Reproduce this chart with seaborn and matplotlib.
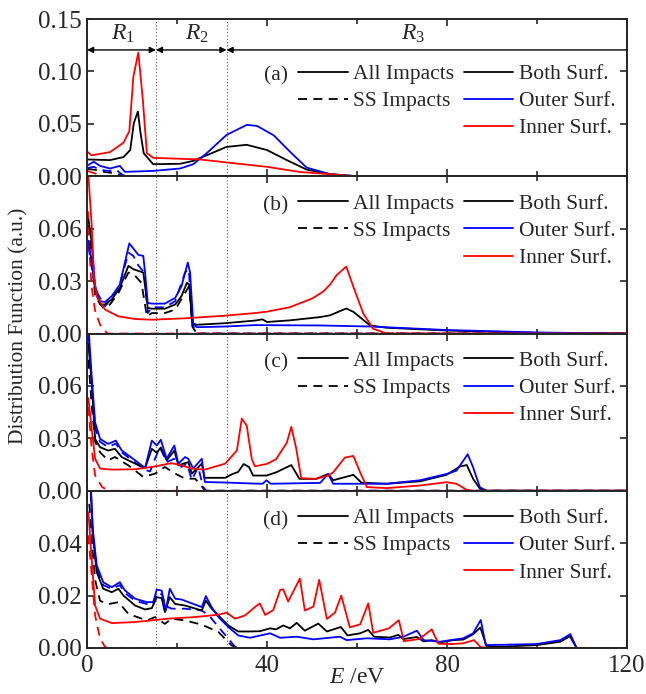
import matplotlib
matplotlib.use("Agg")
import matplotlib.pyplot as plt
import seaborn as sns
from matplotlib.lines import Line2D
from matplotlib.ticker import MultipleLocator

# ---------------- data (E in eV, distribution function in a.u.) ----------------
# panel (a)
A_BOTH_E = [0.2, 5.1, 8.1, 9.6, 10.4, 11.3, 11.9, 12.6, 14.7, 20.7, 23.6, 26.6, 31, 35.5, 40, 44.4, 48.8, 54, 60, 120]
A_BOTH_V = [0.016, 0.0154, 0.0183, 0.025, 0.0506, 0.0618, 0.041, 0.022, 0.0115, 0.0119, 0.0147, 0.020, 0.028,
            0.030, 0.025, 0.0154, 0.0064, 0.002, 0.0, 0.0]
A_OUTER_E = [0.2, 1.5, 2.9, 5.1, 7.3, 8.4, 14.7, 20.7, 23.6, 26.6, 31, 35.5, 37.8, 41.5, 45.2, 48.8, 54, 60, 120]
A_OUTER_V = [0.0106, 0.0138, 0.0099, 0.0074, 0.0099, 0.0042, 0.0051, 0.0074, 0.0115, 0.022, 0.0394, 0.049, 0.048,
             0.039, 0.023, 0.0083, 0.002, 0.0, 0.0]
A_INNER_E = [0.2, 1.0, 5.1, 8.1, 9.4, 10.3, 11.4, 12.4, 13.3, 14.7, 25.1, 31, 40, 47.3, 54, 60, 120]
A_INNER_V = [0.023, 0.020, 0.023, 0.032, 0.043, 0.095, 0.118, 0.073, 0.022, 0.0176, 0.016, 0.0132, 0.009, 0.0041,
             0.002, 0.0, 0.0]
A_BOTH_SS_E = [0.2, 2, 4, 6, 8, 9, 120]
A_BOTH_SS_V = [0.007, 0.006, 0.004, 0.003, 0.0005, 0.0, 0.0]
A_OUTER_SS_E = [0.2, 1.5, 3, 5, 6.5, 8, 9, 120]
A_OUTER_SS_V = [0.008, 0.009, 0.006, 0.005, 0.006, 0.001, 0.0, 0.0]
A_INNER_SS_E = [0.2, 1.5, 3, 4, 120]
A_INNER_SS_V = [0.005, 0.003, 0.001, 0.0, 0.0]

# panel (b)
B_BOTH_E = [0.3, 1.04, 1.8, 2.9, 4.0, 5.5, 7.3, 9.2, 10.3, 12.5, 12.9, 13.5, 14.4, 17.3, 19.6, 21.0, 22.2, 22.7,
            23.4, 24.4, 30.7, 37.3, 39.0, 40.0, 45, 51.8, 54, 57.6, 59.2, 62.9, 66.6, 79.9, 100, 118, 120]
B_BOTH_V = [0.0656, 0.0522, 0.0252, 0.0166, 0.0166, 0.0195, 0.0262, 0.0387, 0.0368, 0.0349, 0.027, 0.0146, 0.0142,
            0.0142, 0.0166, 0.0214, 0.029, 0.028, 0.0059, 0.005, 0.0059, 0.0074, 0.0081, 0.0066, 0.0075, 0.0094,
            0.0104, 0.0143, 0.0124, 0.0046, 0.0033, 0.0017, 0.0004, 0.0, 0.0]
B_OUTER_E = [0.3, 1.04, 1.8, 2.9, 4.0, 5.5, 7.3, 9.4, 11.4, 12.5, 12.9, 13.5, 14.4, 17.3, 19.6, 21.0, 22.4, 22.9,
             23.6, 24.4, 30.7, 37.3, 51.8, 62.9, 79.9, 100, 118, 120]
B_OUTER_V = [0.0531, 0.0406, 0.0271, 0.0185, 0.018, 0.0214, 0.0281, 0.0516, 0.045, 0.0444, 0.0349, 0.0175, 0.0171,
             0.0171, 0.0204, 0.0271, 0.0406, 0.0349, 0.0059, 0.0036, 0.004, 0.0048, 0.0046, 0.004, 0.002, 0.0006,
             0.0, 0.0]
B_INNER_E = [0.2, 0.67, 1.04, 1.56, 2.15, 4.0, 7.0, 10.7, 14.4, 21.8, 30.7, 37.3, 40, 45, 50, 52.5, 54, 55.5, 57.6,
             59.2, 61.4, 63.6, 66.6, 120]
B_INNER_V = [0.095, 0.0762, 0.0617, 0.0329, 0.0213, 0.0137, 0.0098, 0.0083, 0.0079, 0.0087, 0.0102, 0.0117, 0.0125,
             0.015, 0.02, 0.024, 0.028, 0.0335, 0.0383, 0.0267, 0.0114, 0.0027, 0.0, 0.0]
B_BOTH_SS_E = [0.3, 1.04, 1.8, 3.6, 5.1, 7.0, 9.2, 10.7, 12.1, 13.3, 14.4, 17.3, 19.6, 21.8, 22.7, 23.4, 24.4, 120]
B_BOTH_SS_V = [0.062, 0.045, 0.021, 0.0146, 0.0166, 0.0233, 0.0349, 0.033, 0.029, 0.0098, 0.0117, 0.0117, 0.0137,
               0.0233, 0.0272, 0.004, 0.0, 0.0]
B_OUTER_SS_E = [0.3, 1.04, 1.8, 4.0, 7.0, 9.2, 10.3, 11.4, 12.7, 13.5, 14.4, 17.3, 19.6, 21.8, 22.6, 23.4, 24.4, 120]
B_OUTER_SS_V = [0.05, 0.038, 0.0252, 0.0156, 0.0252, 0.0463, 0.0444, 0.039, 0.0349, 0.0117, 0.015, 0.015, 0.0185,
                0.035, 0.0368, 0.006, 0.0, 0.0]
B_INNER_SS_E = [0.2, 0.6, 1.0, 1.8, 2.9, 4.5, 120]
B_INNER_SS_V = [0.07, 0.045, 0.027, 0.013, 0.005, 0.0, 0.0]

# panel (c)
C_BOTH_E = [0.3, 1.04, 1.8, 2.9, 4.7, 6.2, 7.7, 10.7, 12.9, 14.4, 15.5, 16.4, 17.7, 19.4, 20.3, 21.4, 22.5, 23.3,
            25.5, 26.1, 30.7, 32.1, 33.6, 34.8, 36.0, 36.9, 39.9, 42.0, 45.4, 47.2, 50.9, 53.6, 54.7, 59.2, 61.0,
            66.6, 74.0, 79.9, 82.9, 84.4, 85.8, 87.3, 88.8, 120]
C_BOTH_V = [0.0843, 0.0617, 0.0297, 0.0249, 0.023, 0.024, 0.0193, 0.0155, 0.013, 0.024, 0.0217, 0.0248, 0.0174,
            0.023, 0.0145, 0.0155, 0.0164, 0.0098, 0.0155, 0.0074, 0.0074, 0.0093, 0.0108, 0.0153, 0.0136, 0.0087,
            0.0087, 0.0105, 0.0147, 0.0068, 0.0068, 0.0096, 0.006, 0.0091, 0.0046, 0.004, 0.0054, 0.0091, 0.0139,
            0.0147, 0.0068, 0.0012, 0.0, 0.0]
C_OUTER_E = [0.3, 1.04, 1.8, 2.9, 4.7, 6.4, 7.7, 10.7, 12.9, 14.4, 15.5, 16.4, 17.7, 19.4, 20.3, 21.8, 22.5, 23.6,
             25.5, 26.2, 30.7, 37.3, 39.0, 39.9, 40.8, 51.8, 53.6, 54.7, 66.6, 74.0, 79.9, 82.1, 84.6, 85.8, 87.3,
             88.8, 120]
C_OUTER_V = [0.095, 0.0655, 0.0391, 0.0297, 0.0268, 0.0287, 0.0231, 0.0174, 0.013, 0.0287, 0.0259, 0.0292, 0.0183,
             0.0259, 0.0155, 0.0193, 0.0183, 0.0127, 0.0183, 0.005, 0.0047, 0.0041, 0.004, 0.006, 0.004, 0.0045,
             0.0096, 0.004, 0.004, 0.006, 0.0096, 0.0115, 0.0209, 0.0134, 0.002, 0.0, 0.0]
C_INNER_E = [0.3, 1.04, 1.8, 2.9, 5.5, 10.7, 14.4, 18.8, 21.0, 23.3, 26.2, 30.7, 33.3, 34.4, 35.5, 36.6, 37.3, 39.9,
             42.0, 44.4, 45.4, 46.5, 47.6, 50.9, 53.6, 54.7, 57.3, 59.2, 60.7, 62.2, 66.6, 74.0, 79.9, 82.1, 84.4,
             85.8, 120]
C_INNER_V = [0.053, 0.0353, 0.0183, 0.0127, 0.0121, 0.0123, 0.0136, 0.0158, 0.0145, 0.0127, 0.0121, 0.0155, 0.023,
             0.0413, 0.0372, 0.0183, 0.014, 0.0153, 0.018, 0.0275, 0.0366, 0.024, 0.0072, 0.0068, 0.0087, 0.0105,
             0.019, 0.0199, 0.0105, 0.0021, 0.0015, 0.003, 0.0049, 0.004, 0.0005, 0.0, 0.0]
C_BOTH_SS_E = [0.3, 1.0, 1.8, 2.9, 4.7, 6.2, 9.2, 12.5, 15.1, 17.3, 19.6, 21.8, 24.0, 25.1, 26.2, 120]
C_BOTH_SS_V = [0.075, 0.05, 0.028, 0.022, 0.0174, 0.0193, 0.0145, 0.0079, 0.0098, 0.0136, 0.0098, 0.0069, 0.0069,
               0.004, 0.0, 0.0]
C_OUTER_SS_E = [0.3, 1.04, 1.8, 2.9, 4.7, 6.4, 7.7, 10.7, 12.9, 14.0, 15.1, 16.2, 17.7, 19.4, 21.0, 22.2, 23.3, 24.7,
                25.8, 26.5, 120]
C_OUTER_SS_V = [0.09, 0.062, 0.036, 0.028, 0.025, 0.027, 0.022, 0.016, 0.012, 0.011, 0.0183, 0.0248, 0.0164, 0.0183,
                0.0136, 0.0155, 0.0062, 0.0136, 0.0022, 0.0, 0.0]
C_INNER_SS_E = [0.3, 1.04, 1.8, 3.3, 4.7, 120]
C_INNER_SS_V = [0.048, 0.024, 0.0088, 0.0023, 0.0, 0.0]

# panel (d)
D_BOTH_E = [0.7, 1.4, 2.15, 3.6, 5.5, 7.0, 8.1, 10.7, 12.9, 14.4, 15.5, 16.6, 17.3, 18.4, 19.6, 21.8, 25.5, 26.4,
            27.7, 29.2, 31.4, 33.6, 36.2, 38.4, 40.7, 42.0, 43.6, 45.1, 46.6, 48.4, 51.4, 53.3, 56.4, 57.9, 60.7,
            62.5, 63.8, 67.3, 69.2, 70.3, 73.3, 74.8, 76.6, 78.4, 81.4, 83.6, 85.8, 87.4, 88.8, 91.0, 99.9, 105.2,
            107.3, 108.8, 120]
D_BOTH_V = [0.065, 0.0417, 0.029, 0.0226, 0.0213, 0.0226, 0.02, 0.0162, 0.0147, 0.0152, 0.0194, 0.019, 0.0137,
            0.0194, 0.0168, 0.0162, 0.0143, 0.0181, 0.015, 0.0124, 0.0086, 0.0063, 0.0063, 0.0064, 0.0075, 0.0071,
            0.0086, 0.0075, 0.0096, 0.0066, 0.0093, 0.0063, 0.008, 0.0048, 0.0056, 0.0069, 0.0043, 0.004, 0.005,
            0.0034, 0.0042, 0.0025, 0.003, 0.0021, 0.003, 0.0032, 0.0052, 0.0078, 0.0007, 0.0004, 0.0011, 0.0024,
            0.0045, 0.0, 0.0]
D_OUTER_E = [0.7, 1.2, 2.15, 3.6, 5.5, 7.3, 8.4, 10.7, 13.3, 14.7, 15.5, 16.6, 17.5, 18.4, 19.6, 21.0, 25.5, 26.4,
             27.7, 29.2, 31.4, 33.6, 36.2, 40.7, 42.9, 46.6, 50.3, 56.2, 57.7, 62.2, 67.3, 70.3, 73.3, 74.8, 78.4,
             83.6, 85.8, 87.5, 88.6, 99.9, 105.2, 107.4, 108.8, 120]
D_OUTER_V = [0.07, 0.0467, 0.0316, 0.0251, 0.0232, 0.0251, 0.022, 0.0188, 0.0175, 0.0175, 0.0223, 0.0219, 0.0143,
             0.0226, 0.0188, 0.0185, 0.0156, 0.0198, 0.0156, 0.0118, 0.008, 0.0048, 0.0039, 0.0056, 0.0039, 0.0043,
             0.0033, 0.0043, 0.003, 0.0037, 0.0033, 0.0043, 0.0066, 0.003, 0.0024, 0.0037, 0.0056, 0.0107, 0.0011,
             0.0015, 0.003, 0.0053, 0.0, 0.0]
D_INNER_E = [0.3, 1.04, 1.8, 2.9, 5.5, 10.7, 18.1, 24.0, 29.2, 31.0, 32.9, 35.1, 37.3, 38.4, 39.6, 41.4, 42.9, 43.6,
             44.7, 47.3, 48.4, 50.3, 51.6, 53.3, 55.1, 56.5, 58.4, 60.7, 62.5, 63.6, 67.1, 69.3, 70.4, 73.8, 76.6,
             78.1, 81.0, 83.6, 86.0, 87.5, 90, 120]
D_INNER_V = [0.0518, 0.034, 0.0162, 0.0112, 0.0095, 0.0099, 0.0112, 0.0118, 0.0127, 0.0135, 0.0112, 0.0124, 0.0156,
             0.017, 0.0126, 0.0145, 0.0221, 0.0224, 0.0177, 0.0265, 0.0143, 0.0158, 0.026, 0.0111, 0.0135, 0.020,
             0.0079, 0.009, 0.017, 0.0058, 0.0075, 0.0106, 0.0026, 0.0034, 0.0071, 0.0016, 0.0015, 0.0018, 0.003,
             0.0003, 0.0, 0.0]
D_BOTH_SS_E = [0.5, 1.2, 1.8, 2.9, 4.7, 7.0, 9.2, 13.3, 15.1, 17.3, 18.8, 21.8, 25.5, 29.2, 32.1, 33.6, 120]
D_BOTH_SS_V = [0.055, 0.038, 0.026, 0.018, 0.0167, 0.0175, 0.013, 0.0105, 0.0118, 0.0092, 0.0112, 0.0105, 0.0089,
               0.0061, 0.001, 0.0, 0.0]
D_OUTER_SS_E = [0.7, 1.2, 2.15, 3.6, 5.5, 7.3, 8.4, 10.7, 13.3, 14.7, 15.5, 16.6, 17.5, 18.8, 21.8, 25.5, 27.1, 29.2,
                31.4, 32.9, 33.6, 120]
D_OUTER_SS_V = [0.065, 0.044, 0.030, 0.024, 0.0225, 0.024, 0.021, 0.018, 0.0168, 0.0165, 0.021, 0.0205, 0.016, 0.015,
                0.015, 0.0143, 0.0124, 0.008, 0.0036, 0.0004, 0.0, 0.0]
D_INNER_SS_E = [0.3, 1.04, 1.8, 2.9, 4.0, 4.7, 120]
D_INNER_SS_V = [0.043, 0.0277, 0.0124, 0.0036, 0.0004, 0.0, 0.0]

PANEL_LABELS = ['(a)', '(b)', '(c)', '(d)']
Y_MAX = [0.15, 0.09, 0.09, 0.06]
Y_TICKS = [[0.0, 0.05, 0.10, 0.15], [0.0, 0.03, 0.06], [0.0, 0.03, 0.06], [0.0, 0.02, 0.04]]
X_TICKS = [0, 40, 80, 120]
REGION_EDGES = [15.3, 31.0]

# ---------------- style ----------------
sns.set_style('ticks')
plt.rcParams['font.family'] = ['Liberation Serif', 'DejaVu Serif']
plt.rcParams['mathtext.fontset'] = 'custom'
plt.rcParams['mathtext.rm'] = 'Liberation Serif'
plt.rcParams['mathtext.it'] = 'Liberation Serif:italic'
plt.rcParams['axes.linewidth'] = 1.4

FS = 15.5     # legend text
FS_TICK = 18  # tick labels
LW = 1.3
DASH = (0, (5, 3.5))

panels = [
    [(A_BOTH_SS_E, A_BOTH_SS_V, 'k', DASH), (A_OUTER_SS_E, A_OUTER_SS_V, 'b', DASH), (A_INNER_SS_E, A_INNER_SS_V, 'r', DASH),
     (A_BOTH_E, A_BOTH_V, 'k', '-'), (A_OUTER_E, A_OUTER_V, 'b', '-'), (A_INNER_E, A_INNER_V, 'r', '-')],
    [(B_BOTH_SS_E, B_BOTH_SS_V, 'k', DASH), (B_OUTER_SS_E, B_OUTER_SS_V, 'b', DASH), (B_INNER_SS_E, B_INNER_SS_V, 'r', DASH),
     (B_BOTH_E, B_BOTH_V, 'k', '-'), (B_OUTER_E, B_OUTER_V, 'b', '-'), (B_INNER_E, B_INNER_V, 'r', '-')],
    [(C_BOTH_SS_E, C_BOTH_SS_V, 'k', DASH), (C_OUTER_SS_E, C_OUTER_SS_V, 'b', DASH), (C_INNER_SS_E, C_INNER_SS_V, 'r', DASH),
     (C_BOTH_E, C_BOTH_V, 'k', '-'), (C_OUTER_E, C_OUTER_V, 'b', '-'), (C_INNER_E, C_INNER_V, 'r', '-')],
    [(D_BOTH_SS_E, D_BOTH_SS_V, 'k', DASH), (D_OUTER_SS_E, D_OUTER_SS_V, 'b', DASH), (D_INNER_SS_E, D_INNER_SS_V, 'r', DASH),
     (D_BOTH_E, D_BOTH_V, 'k', '-'), (D_OUTER_E, D_OUTER_V, 'b', '-'), (D_INNER_E, D_INNER_V, 'r', '-')],
]

fig = plt.figure(figsize=(6.46, 6.94), dpi=100)
axes = fig.subplots(4, 1, sharex=True)
fig.subplots_adjust(left=0.1347, right=0.9706, top=0.9726, bottom=0.0663, hspace=0)

for i, ax in enumerate(axes):
    for e, v, c, ls in panels[i]:
        sns.lineplot(x=e, y=v, ax=ax, color=c, lw=LW, linestyle=ls, estimator=None, sort=False)

    for xe in REGION_EDGES:
        ax.axvline(xe, color='0.35', lw=0.8, ls=(0, (1, 2)), zorder=0)

    ax.set_xlim(0, 120)
    ax.set_ylim(0, Y_MAX[i])
    ax.set_yticks(Y_TICKS[i])
    ax.yaxis.set_major_formatter(plt.FormatStrFormatter('%.2f'))
    ax.set_xticks(X_TICKS)
    ax.xaxis.set_minor_locator(MultipleLocator(20))
    ax.tick_params(which='both', direction='in', top=True, right=True, labelsize=FS_TICK, width=1.2)
    ax.tick_params(which='major', length=5, pad=4)
    ax.tick_params(which='minor', length=3.5)
    ax.tick_params(axis='x', which='major', pad=5)
    ax.set_ylabel('')
    ax.set_xlabel('')

    # legend: two columns, line style / surface colour
    row_top = 0.714 if i == 0 else 0.889
    h1 = [Line2D([], [], color='k', lw=LW), Line2D([], [], color='k', lw=LW, ls=DASH)]
    leg1 = ax.legend(h1, ['All Impacts', 'SS Impacts'], loc='upper left', bbox_to_anchor=(0.3907, row_top),
                     frameon=False, fontsize=FS, handlelength=2.3, handletextpad=0.25, labelspacing=0.33,
                     borderpad=0, borderaxespad=0)
    ax.add_artist(leg1)
    h2 = [Line2D([], [], color='k', lw=LW), Line2D([], [], color='b', lw=LW), Line2D([], [], color='r', lw=LW)]
    ax.legend(h2, ['Both Surf.', 'Outer Surf.', 'Inner Surf.'], loc='upper left', bbox_to_anchor=(0.698, row_top),
              frameon=False, fontsize=FS, handlelength=2.3, handletextpad=0.25, labelspacing=0.33,
              borderpad=0, borderaxespad=0)
    ax.text(0.372, row_top - 0.078, PANEL_LABELS[i], transform=ax.transAxes, ha='right', va='center',
            fontsize=FS)

# region markers in panel (a)
ax = axes[0]
y_r = 0.1205
arrow = dict(arrowstyle='<|-|>', color='k', lw=1.0, shrinkA=0, shrinkB=0, mutation_scale=9)
ax.annotate('', xy=(0, y_r), xytext=(REGION_EDGES[0], y_r), arrowprops=arrow)
ax.annotate('', xy=(REGION_EDGES[0], y_r), xytext=(REGION_EDGES[1], y_r), arrowprops=arrow)
ax.annotate('', xy=(REGION_EDGES[1], y_r), xytext=(120, y_r),
            arrowprops=dict(arrowstyle='-|>', color='k', lw=1.0, shrinkA=0, shrinkB=0, mutation_scale=9))
for xr, lab in [(8, r'$R_1$'), (24.4, r'$R_2$'), (72.5, r'$R_3$')]:
    ax.text(xr, 0.1355, lab, ha='center', va='center', fontsize=17)

axes[3].set_xlabel(r'$E$ /eV', fontsize=17, labelpad=-7)
fig.text(0.029, 0.531, 'Distribution Function (a.u.)', rotation=90, ha='center', va='center', fontsize=FS)

fig.savefig('out.png', dpi=100)
